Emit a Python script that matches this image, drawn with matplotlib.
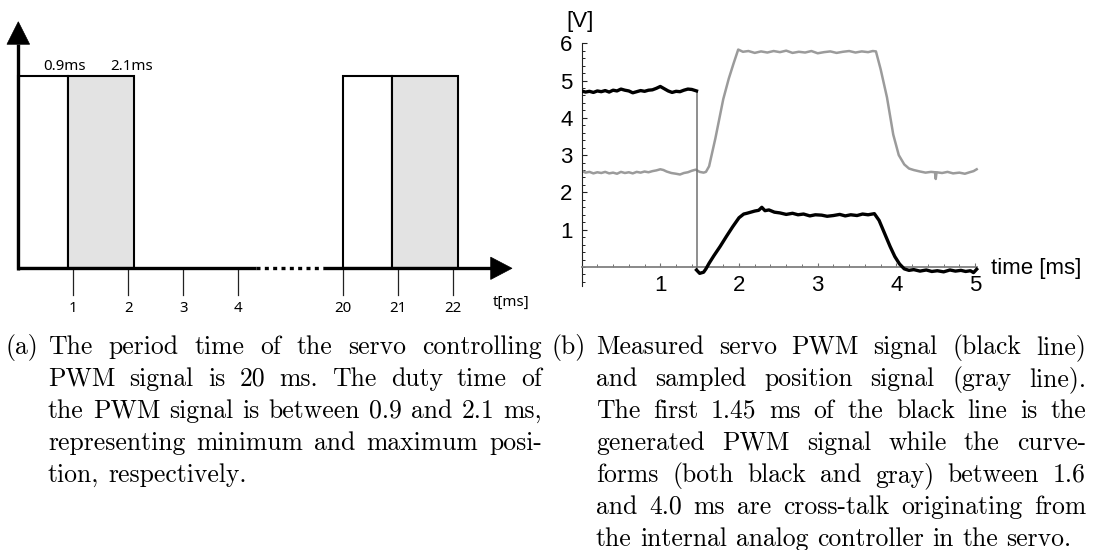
import matplotlib
matplotlib.use('Agg')
import matplotlib.pyplot as plt
from matplotlib.patches import Polygon, Rectangle
from matplotlib.ticker import FixedLocator
import numpy as np

W, H = 1093, 550

# ---------------- data ----------------
# (a) schematic PWM signal
pulse_starts = [0, 20]          # ms
min_duty = 0.9                  # ms
max_duty = 2.1                  # ms
left_ticks = [1, 2, 3, 4, 20, 21, 22]
left_tick_labels = ['1', '2', '3', '4', '20', '21', '22']
duty_labels = ['0.9ms', '2.1ms']

# (b) measured signals (ms, V)
black_t = [0.00, 0.05, 0.10, 0.15, 0.20, 0.25, 0.30, 0.35, 0.40, 0.45, 0.50, 0.55,
           0.60, 0.65, 0.70, 0.75, 0.80, 0.85, 0.90, 0.95, 1.00, 1.05, 1.10, 1.15,
           1.20, 1.25, 1.30, 1.35, 1.40, 1.46, 1.46, 1.50, 1.55, 1.58, 1.62, 1.68,
           1.76, 1.84, 1.92, 2.00, 2.06, 2.10, 2.15, 2.20, 2.25, 2.29, 2.33, 2.38,
           2.45, 2.52, 2.60, 2.68, 2.75, 2.82, 2.90, 2.97, 3.05, 3.12, 3.20, 3.28,
           3.35, 3.42, 3.50, 3.57, 3.64, 3.72, 3.78, 3.85, 3.92, 3.98, 4.04, 4.10,
           4.16, 4.22, 4.30, 4.38, 4.45, 4.52, 4.60, 4.68, 4.75, 4.82, 4.88, 4.94,
           4.98, 5.02]
black_v = [4.72, 4.69, 4.71, 4.68, 4.72, 4.70, 4.73, 4.69, 4.74, 4.72, 4.77, 4.74,
           4.72, 4.67, 4.70, 4.73, 4.71, 4.74, 4.75, 4.79, 4.84, 4.78, 4.72, 4.68,
           4.71, 4.70, 4.74, 4.77, 4.76, 4.72, -0.08, -0.17, -0.14, -0.05, 0.10, 0.30,
           0.55, 0.82, 1.08, 1.32, 1.42, 1.44, 1.47, 1.50, 1.52, 1.60, 1.51, 1.53,
           1.47, 1.45, 1.41, 1.44, 1.40, 1.42, 1.37, 1.40, 1.39, 1.36, 1.38, 1.41,
           1.37, 1.40, 1.38, 1.42, 1.40, 1.43, 1.25, 0.90, 0.55, 0.28, 0.08, -0.05,
           -0.09, -0.07, -0.11, -0.08, -0.12, -0.10, -0.13, -0.08, -0.11, -0.09, -0.12,
           -0.10, -0.15, -0.06]
gray_t = [0.00, 0.05, 0.10, 0.15, 0.20, 0.25, 0.30, 0.35, 0.40, 0.45, 0.50, 0.55,
          0.60, 0.65, 0.70, 0.75, 0.80, 0.85, 0.90, 0.95, 1.00, 1.04, 1.08, 1.14,
          1.20, 1.25, 1.30, 1.35, 1.40, 1.45, 1.50, 1.55, 1.58, 1.62, 1.70, 1.80,
          1.87, 1.93, 1.99, 2.05, 2.12, 2.20, 2.28, 2.36, 2.44, 2.52, 2.60, 2.68,
          2.76, 2.84, 2.92, 3.00, 3.08, 3.16, 3.24, 3.32, 3.40, 3.48, 3.56, 3.64,
          3.70, 3.74, 3.80, 3.88, 3.96, 4.03, 4.10, 4.16, 4.22, 4.30, 4.37, 4.44,
          4.49, 4.50, 4.51, 4.58, 4.65, 4.72, 4.80, 4.87, 4.93, 4.98, 5.02]
gray_v = [2.58, 2.53, 2.55, 2.51, 2.54, 2.52, 2.55, 2.51, 2.53, 2.50, 2.55, 2.52,
          2.54, 2.51, 2.55, 2.53, 2.56, 2.54, 2.57, 2.59, 2.62, 2.60, 2.56, 2.52,
          2.50, 2.48, 2.52, 2.54, 2.58, 2.61, 2.55, 2.53, 2.55, 2.70, 3.45, 4.50,
          5.05, 5.45, 5.83, 5.77, 5.79, 5.74, 5.78, 5.75, 5.79, 5.76, 5.80, 5.74,
          5.77, 5.75, 5.79, 5.73, 5.76, 5.78, 5.74, 5.77, 5.79, 5.75, 5.78, 5.76,
          5.79, 5.78, 5.30, 4.55, 3.55, 3.00, 2.75, 2.64, 2.60, 2.56, 2.53, 2.55,
          2.54, 2.36, 2.54, 2.52, 2.55, 2.51, 2.53, 2.50, 2.54, 2.57, 2.62]
right_xticks = [1, 2, 3, 4, 5]
right_yticks = [1, 2, 3, 4, 5, 6]

# caption texts
cap_a = ["The period time of the servo controlling",
         "PWM signal is 20 ms.  The duty time of",
         "the PWM signal is between 0.9 and 2.1 ms,",
         "representing minimum and maximum posi-",
         "tion, respectively."]
cap_b = ["Measured servo PWM signal (black line)",
         "and sampled position signal (gray line).",
         "The first 1.45 ms of the black line is the",
         "generated PWM signal while the curve-",
         "forms (both black and gray) between 1.6",
         "and 4.0 ms are cross-talk originating from",
         "the internal analog controller in the servo."]

fig = plt.figure(figsize=(W / 100, H / 100), dpi=100)

# ---------------- panel (a) ----------------
x0px, sx = 18.3, 55.0
y0px, sy = 268.3, 192.3
ax1 = fig.add_axes([0, 1 - 300 / H, 540 / W, 300 / H])
ax1.set_xlim(-x0px / sx, (540 - x0px) / sx)
ax1.set_ylim(-(300 - y0px) / sy, y0px / sy)
ax1.axis('off')

SHIFT = 14.10  # compresses the break in the time axis


def tx(t):
    return t if t < 10 else t - SHIFT


for s in pulse_starts:
    ax1.add_patch(Rectangle((tx(s), 0), min_duty, 1, fc='white', ec='black',
                            lw=1.5, zorder=2))
    ax1.add_patch(Rectangle((tx(s) + min_duty, 0), max_duty - min_duty, 1,
                            fc='#e3e3e3', ec='black', lw=1.5, zorder=2))

AXLW = 2.4
dot_a, dot_b = 4.32, 5.54
xa_base, xa_tip, xa_half = 8.589, 8.976, 0.058
ya_base, ya_tip, ya_half = 1.165, 1.282, 0.206
ax1.plot([0, dot_a], [0, 0], color='black', lw=AXLW, solid_capstyle='butt', zorder=3)
ax1.plot([dot_a, dot_b], [0, 0], color='black', lw=AXLW, ls=(0, (1.2, 1.3)),
         dash_capstyle='butt', zorder=3)
ax1.plot([dot_b, xa_base], [0, 0], color='black', lw=AXLW, solid_capstyle='butt', zorder=3)
ax1.add_patch(Polygon([(xa_base, xa_half), (xa_tip, 0), (xa_base, -xa_half)],
                      closed=True, fc='black', ec='black', lw=0.5, zorder=3))
ax1.plot([0, 0], [-0.008, ya_base], color='black', lw=AXLW, solid_capstyle='butt', zorder=3)
ax1.add_patch(Polygon([(-ya_half, ya_base), (0, ya_tip), (ya_half, ya_base)],
                      closed=True, fc='black', ec='black', lw=0.5, zorder=3))

lfont = dict(family='Noto Sans', fontsize=10.8, color='black')
for t, lab in zip(left_ticks, left_tick_labels):
    ax1.plot([tx(t), tx(t)], [0, -0.139], color='#222222', lw=0.9, zorder=1)
    ax1.text(tx(t), -0.207, lab, ha='center', va='center', clip_on=False, **lfont)
ax1.text(8.96, -0.176, 't[ms]', ha='center', va='center', clip_on=False, **lfont)
ax1.text(min_duty - 0.056, 1.05, duty_labels[0], ha='center', va='center', **lfont)
ax1.text(max_duty - 0.042, 1.05, duty_labels[1], ha='center', va='center', **lfont)

# ---------------- panel (b) ----------------
rx0, rsx = 581.6, 78.7
ry0, rsy = 267.0, 37.3
xl = (0.0, 5.3)
yl = (-0.52, 6.05)
lpx = rx0 + xl[0] * rsx
rpx = rx0 + xl[1] * rsx
tpx = ry0 - yl[1] * rsy
bpx = ry0 - yl[0] * rsy
ax2 = fig.add_axes([lpx / W, 1 - bpx / H, (rpx - lpx) / W, (bpx - tpx) / H])
ax2.set_xlim(*xl)
ax2.set_ylim(*yl)
ax2.patch.set_alpha(0)
for sp in ('top', 'right'):
    ax2.spines[sp].set_visible(False)
ax2.spines['bottom'].set_position(('data', 0))
ax2.spines['bottom'].set_color('#808080')
ax2.spines['bottom'].set_linewidth(1.3)
ax2.spines['bottom'].set_bounds(0, 5.03)
ax2.spines['left'].set_bounds(yl[0], 6.0)
ax2.spines['left'].set_linewidth(0.8)
ax2.spines['left'].set_color('#222222')

rfont = 'Liberation Sans'
RFS = 16
ax2.set_xticks(right_xticks)
ax2.set_xticklabels([str(v) for v in right_xticks])
ax2.xaxis.set_minor_locator(FixedLocator(np.arange(0.2, 5.01, 0.2)))
ax2.set_yticks(right_yticks)
ax2.set_yticklabels([str(v) for v in right_yticks])
ax2.yaxis.set_minor_locator(FixedLocator(np.arange(-0.4, 6.01, 0.2)))
ax2.tick_params(axis='x', which='major', direction='in', length=3.2, width=0.8,
                color='#707070', labelsize=RFS, pad=5.5)
ax2.tick_params(axis='x', which='minor', direction='in', length=2.0, width=0.7,
                color='#707070')
ax2.tick_params(axis='y', which='major', direction='in', length=3.6, width=0.8,
                color='#222222', labelsize=RFS, pad=6.5)
ax2.tick_params(axis='y', which='minor', direction='in', length=1.8, width=0.7,
                color='#222222')
for lab in ax2.get_xticklabels() + ax2.get_yticklabels():
    lab.set_family(rfont)

# black trace (the vertical switching edge is drawn thin, as in the scope plot)
k = next(i for i in range(len(black_t) - 1) if black_t[i] == black_t[i + 1])
ax2.plot(black_t[:k + 1], black_v[:k + 1], color='black', lw=2.4, zorder=4)
ax2.plot(black_t[k:k + 2], black_v[k:k + 2], color='#707070', lw=1.1, zorder=3)
ax2.plot(black_t[k + 1:], black_v[k + 1:], color='black', lw=2.4, zorder=4)
ax2.plot(gray_t, gray_v, color='#9b9b9b', lw=1.8, zorder=2)

fig.text(580 / W, 1 - 21.5 / H, '[V]', family=rfont, fontsize=RFS,
         ha='center', va='center')
fig.text(990.7 / W, 1 - 268.3 / H, 'time [ms]', family=rfont, fontsize=RFS,
         ha='left', va='center')

# ---------------- captions ----------------
FS = 18.5
renderer = fig.canvas.get_renderer()


def caption(lines, label, label_x, x_left, x_right, y0, dy):
    cf = dict(family='cmr10', fontsize=FS, va='baseline', ha='left')
    fig.text(label_x / W, 1 - y0 / H, label, **cf)
    space = 0.333 * FS * 100 / 72
    for i, line in enumerate(lines):
        y = 1 - (y0 + i * dy) / H
        words = line.split()
        texts = [fig.text(0, y, w, **cf) for w in words]
        widths = [t.get_window_extent(renderer).width for t in texts]
        if i == len(lines) - 1 or len(words) == 1:
            gap = space
        else:
            gap = (x_right - x_left - sum(widths)) / (len(words) - 1)
        x = x_left
        for t, w in zip(texts, widths):
            t.set_x(x / W)
            x += w + gap


caption(cap_a, '(a)', 5, 48, 542, 354, 32)
caption(cap_b, '(b)', 551, 596, 1086, 354, 32)

fig.savefig('out.png', dpi=100)
